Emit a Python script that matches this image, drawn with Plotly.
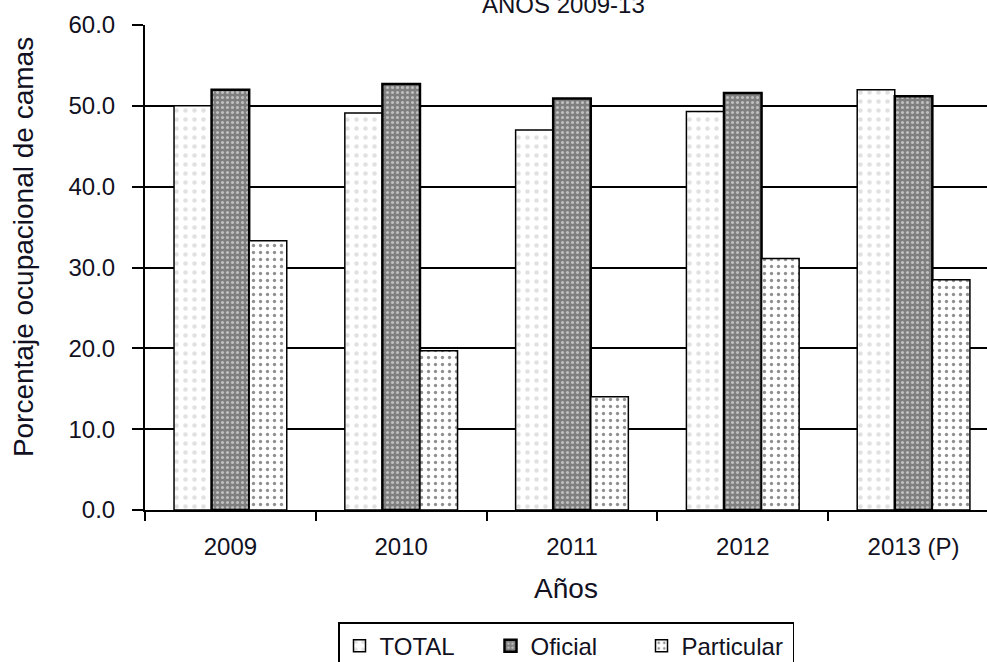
import plotly.graph_objects as go

years = ["2009", "2010", "2011", "2012", "2013 (P)"]
total = [50.0, 49.1, 47.0, 49.3, 52.0]
oficial = [52.0, 52.7, 50.9, 51.6, 51.2]
particular = [33.3, 19.7, 14.0, 31.1, 28.5]
y_ticks = [0, 10, 20, 30, 40, 50, 60]

FONT = "Liberation Sans, Arial, sans-serif"
TXT = "#111122"

fig = go.Figure()
fig.add_trace(go.Bar(
    name="TOTAL", x=years, y=total,
    marker=dict(color="white", line=dict(color="black", width=1.5),
                pattern=dict(shape=".", fgcolor="#c4c4c4", bgcolor="white", size=9, solidity=0.2)),
))
fig.add_trace(go.Bar(
    name="Oficial", x=years, y=oficial,
    marker=dict(color="#7f7f7f", line=dict(color="black", width=2.5),
                pattern=dict(shape=".", fgcolor="white", bgcolor="#7f7f7f", size=5, solidity=0.3)),
))
fig.add_trace(go.Bar(
    name="Particular", x=years, y=particular,
    marker=dict(color="white", line=dict(color="black", width=1.5),
                pattern=dict(shape=".", fgcolor="#222222", bgcolor="white", size=7, solidity=0.18)),
))

fig.update_layout(
    width=987, height=662,
    margin=dict(l=145, r=0, t=25, b=152, autoexpand=False),
    paper_bgcolor="white", plot_bgcolor="white",
    barmode="group", bargap=0.34, bargroupgap=0,
    font=dict(family=FONT, size=24, color=TXT),
    showlegend=True,
    legend=dict(orientation="h", x=0.5, xanchor="center", y=-0.231, yanchor="top",
                bordercolor="black", borderwidth=1.5, font=dict(size=24),
                entrywidth=106, itemwidth=30, traceorder="normal"),
    xaxis=dict(range=[-0.5, 4.43], showline=True, linecolor="black", linewidth=2,
               ticks="outside", ticklen=9, tickcolor="black", tickwidth=2,
               tickson="boundaries", showgrid=False, ticklabelstandoff=14,
               title=dict(text="Años", font=dict(size=28), standoff=20),
               tickfont=dict(size=24)),
    yaxis=dict(range=[0, 60], tickvals=y_ticks, ticktext=[f"{v:.1f}" for v in y_ticks],
               showline=True, linecolor="black", linewidth=2,
               ticks="outside", ticklen=11, tickcolor="black", tickwidth=2,
               ticklabelstandoff=12,
               showgrid=True, gridcolor="black", gridwidth=1.6, zeroline=False,
               tickfont=dict(size=24)),
    yaxis2=dict(range=[0, 60], tickvals=y_ticks, overlaying="y", side="left",
                showticklabels=False, ticks="inside", ticklen=7, tickcolor="black",
                tickwidth=2, showgrid=False, showline=False, zeroline=False),
    annotations=[
        dict(text="AÑOS 2009-13", xref="paper", yref="paper", x=0.4976, y=1.010,
             xanchor="center", yanchor="bottom", showarrow=False,
             font=dict(size=24, color=TXT)),
        dict(text="Porcentaje ocupacional de camas", xref="paper", yref="paper",
             x=-0.1449, y=0.542, xanchor="center", yanchor="middle", textangle=-90,
             showarrow=False, font=dict(size=28, color=TXT)),
    ],
)
fig.add_trace(go.Scatter(x=[years[0]], y=[None], yaxis="y2", showlegend=False, hoverinfo="skip"))

fig.write_html("out.html", post_script="document.body.style.margin='0';",
               config={"displayModeBar": False})
